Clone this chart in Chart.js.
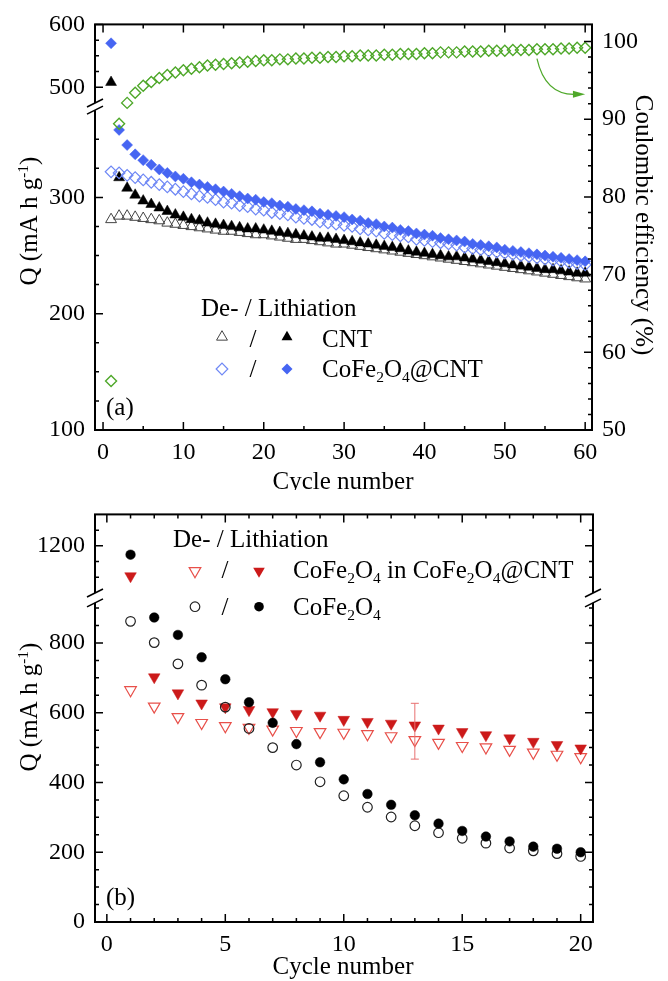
<!DOCTYPE html>
<html>
<head>
<meta charset="utf-8">
<script src="https://cdn.jsdelivr.net/npm/chart.js@4.4.1/dist/chart.umd.min.js"></script>
<style>
html, body { margin: 0; padding: 0; background: #fff; }
#wrap { position: relative; width: 668px; height: 981px; }
canvas { position: absolute; left: 0; }
</style>
</head>
<body>
<div id="wrap">
  <canvas id="chartA" width="668" height="490" style="top:0"></canvas>
  <canvas id="chartB" width="668" height="491" style="top:490px"></canvas>
</div>
<script>
// ---- panel (a): CNT vs CoFe2O4@CNT, 60 cycles ----
const cyclesA = Array.from({ length: 60 }, (_, i) => i + 1);
const deliCNT = [281, 284, 284, 283, 282, 281, 280, 278, 277, 276, 275, 274, 273, 272, 271, 271, 270, 269, 268, 268,
                 267, 266, 265, 264, 264, 263, 262, 261, 260, 260, 259, 258, 257, 256, 255, 254, 253, 252, 251, 250,
                 249, 248, 247, 246, 245, 244, 243, 242, 241, 240, 239, 238, 237, 236, 235, 234, 233, 232, 231, 230];
const liCNT = [508, 317, 308, 302, 297, 294, 291, 288, 285, 283, 281, 280, 278, 277, 276, 275, 274, 273, 273, 272,
               271, 270, 269, 268, 267, 266, 265, 265, 264, 263, 262, 261, 260, 259, 258, 257, 256, 254, 253, 252,
               251, 250, 249, 249, 248, 247, 246, 245, 244, 243, 242, 241, 240, 239, 238, 238, 237, 236, 235, 235];
const deliCoFeCNT = [322, 321, 319, 317, 315, 313, 311, 309, 307, 305, 303, 301, 300, 298, 296, 295, 293, 292, 290, 289,
                     287, 286, 285, 283, 282, 281, 279, 278, 277, 276, 275, 273, 272, 271, 269, 268, 267, 266, 264, 263,
                     262, 261, 260, 259, 257, 256, 255, 254, 253, 252, 251, 250, 249, 248, 247, 246, 245, 244, 243, 242];
const liCoFeCNT = [570, 358, 345, 337, 332, 328, 324, 321, 318, 316, 313, 311, 309, 307, 305, 303, 301, 299, 298, 296,
                   295, 293, 292, 290, 289, 288, 286, 285, 284, 283, 281, 280, 278, 277, 275, 274, 272, 271, 269, 268,
                   267, 265, 264, 263, 262, 260, 259, 258, 257, 255, 254, 253, 252, 251, 250, 249, 248, 247, 246, 245];
const ceCoFeCNT = [56.3, 89.4, 92.1, 93.4, 94.3, 94.8, 95.3, 95.7, 96.0, 96.3, 96.5, 96.7, 96.9, 97.0, 97.1, 97.2, 97.3, 97.4, 97.5, 97.6,
                   97.6, 97.7, 97.7, 97.8, 97.8, 97.9, 97.9, 98.0, 98.0, 98.1, 98.1, 98.2, 98.2, 98.2, 98.3, 98.3, 98.4, 98.4, 98.4, 98.5,
                   98.5, 98.6, 98.6, 98.6, 98.7, 98.7, 98.7, 98.8, 98.8, 98.8, 98.9, 98.9, 98.9, 99.0, 99.0, 99.0, 99.1, 99.1, 99.2, 99.2];

// ---- panel (b): CoFe2O4 vs CoFe2O4 in CoFe2O4@CNT, 20 cycles ----
const cyclesB = [1, 2, 3, 4, 5, 6, 7, 8, 9, 10, 11, 12, 13, 14, 15, 16, 17, 18, 19, 20];
const deliInCNT = [665, 618, 588, 571, 562, 557, 552, 548, 545, 543, 539, 533, 522, 514, 505, 501, 494, 486, 480, 473];
const liInCNT = [1104, 702, 656, 627, 616, 608, 602, 597, 592, 580, 574, 569, 564, 555, 545, 536, 527, 517, 508, 498];
const deliCoFe = [862, 801, 740, 679, 616, 555, 500, 450, 402, 362, 329, 301, 276, 256, 240, 226, 212, 204, 196, 188];
const liCoFe = [1172, 873, 823, 759, 696, 630, 571, 510, 458, 409, 367, 336, 306, 282, 261, 245, 231, 216, 210, 200];
const errCycle = [13];
const errLow = [467];
const errHigh = [627];

// tick labels
const xTicksA = [0, 10, 20, 30, 40, 50, 60];
const yTicksA = [100, 200, 300, 500, 600];
const ceTicks = [50, 60, 70, 80, 90, 100];
const xTicksB = [0, 5, 10, 15, 20];
const yTicksB = [0, 200, 400, 600, 800, 1200];

// axis breaks (value ranges kept on each side and share of the plot height)
const breakA = { lowMin: 100, lowMax: 375, highMin: 475, highMax: 600, lowFrac: 0.7886, highFrac: 0.194 };
const breakB = { lowMin: 0, lowMax: 915, highMin: 1050, highMax: 1300, lowFrac: 0.783, highFrac: 0.193 };

const ink = '#000';
const serif = "'Liberation Serif', 'Times New Roman', serif";
const green = '#4fa82a';
const blueFill = '#4665f2';
const blueLine = '#6f88f5';
const redFill = '#cc1a1a';
const redLine = '#e8504a';

// y scale with a gap in the middle
class BrokenScale extends Chart.LinearScale {
  getPixelForValue(value) {
    const o = this.options.broken;
    const h = this.bottom - this.top;
    if (value <= o.lowMax) {
      return this.bottom - (value - o.lowMin) / (o.lowMax - o.lowMin) * o.lowFrac * h;
    }
    return this.top + (o.highMax - value) / (o.highMax - o.highMin) * o.highFrac * h;
  }
  getValueForPixel(pixel) {
    const o = this.options.broken;
    const h = this.bottom - this.top;
    const split = this.bottom - o.lowFrac * h;
    if (pixel >= split) {
      return o.lowMin + (this.bottom - pixel) / (o.lowFrac * h) * (o.lowMax - o.lowMin);
    }
    return o.highMax - (pixel - this.top) / (o.highFrac * h) * (o.highMax - o.highMin);
  }
}
BrokenScale.id = 'broken';
BrokenScale.defaults = {};
Chart.register(BrokenScale);

function pts(xs, ys) {
  return xs.map((c, i) => ({ x: c, y: ys[i] }));
}

function range(a, b, step) {
  const out = [];
  for (let v = a; v <= b + 1e-9; v += step) out.push(Math.round(v * 1000) / 1000);
  return out;
}

function tickX(ctx, scale, yEdge, dir, vals, len) {
  ctx.beginPath();
  vals.forEach(v => {
    const px = scale.getPixelForValue(v);
    ctx.moveTo(px, yEdge);
    ctx.lineTo(px, yEdge + dir * len);
  });
  ctx.stroke();
}

function tickY(ctx, scale, xEdge, dir, vals, len) {
  ctx.beginPath();
  vals.forEach(v => {
    const py = scale.getPixelForValue(v);
    ctx.moveTo(xEdge, py);
    ctx.lineTo(xEdge + dir * len, py);
  });
  ctx.stroke();
}

function inSegments(v, o) {
  return (v > o.lowMin && v < o.lowMax - 5) || (v > o.highMin + 5 && v < o.highMax);
}

function breakMark(ctx, scale, x, o) {
  const yLow = scale.getPixelForValue(o.lowMax);
  const yHigh = scale.getPixelForValue(o.highMin);
  ctx.save();
  ctx.fillStyle = '#fff';
  ctx.fillRect(x - 3, yHigh, 6, yLow - yHigh);
  ctx.strokeStyle = ink;
  ctx.lineWidth = 1.6;
  ctx.beginPath();
  [yLow, yHigh].forEach(py => {
    ctx.moveTo(x - 8, py + 4);
    ctx.lineTo(x + 8, py - 4);
  });
  ctx.stroke();
  ctx.restore();
}

// text with sub/superscripts, y is the baseline
function richText(ctx, x, y, parts, size, align) {
  const small = size * 0.62;
  let w = 0;
  const segs = parts.map(p => {
    const s = p[0], k = p[1] || '';
    ctx.font = (k ? small : size) + 'px ' + serif;
    const m = ctx.measureText(s).width;
    w += m;
    return [s, k, m];
  });
  let cx = align === 'center' ? x - w / 2 : (align === 'right' ? x - w : x);
  ctx.textAlign = 'left';
  ctx.textBaseline = 'alphabetic';
  segs.forEach(([s, k, m]) => {
    ctx.font = (k ? small : size) + 'px ' + serif;
    const dy = k === 'sub' ? size * 0.2 : (k === 'sup' ? -size * 0.36 : 0);
    ctx.fillText(s, cx, y + dy);
    cx += m;
  });
}

function marker(ctx, style, x, y, r, fill, stroke, lw) {
  ctx.beginPath();
  if (style === 'tri') {
    ctx.moveTo(x, y - r);
    ctx.lineTo(x + r * 0.866, y + r / 2);
    ctx.lineTo(x - r * 0.866, y + r / 2);
    ctx.closePath();
  } else if (style === 'triDown') {
    ctx.moveTo(x, y + r);
    ctx.lineTo(x + r * 0.866, y - r / 2);
    ctx.lineTo(x - r * 0.866, y - r / 2);
    ctx.closePath();
  } else if (style === 'diamond') {
    ctx.moveTo(x - r, y);
    ctx.lineTo(x, y - r);
    ctx.lineTo(x + r, y);
    ctx.lineTo(x, y + r);
    ctx.closePath();
  } else {
    ctx.arc(x, y, r, 0, Math.PI * 2);
  }
  if (fill) { ctx.fillStyle = fill; ctx.fill(); }
  if (stroke) { ctx.strokeStyle = stroke; ctx.lineWidth = lw; ctx.stroke(); }
}

const qTitle = [['Q (mA h g'], ['-1', 'sup'], [')']];
const cfCNT = [['CoFe'], ['2', 'sub'], ['O'], ['4', 'sub'], ['@CNT']];

const panelA = {
  id: 'panelA',
  afterDatasetsDraw(chart) {
    const { ctx, chartArea: a } = chart;
    const { x, y, y1 } = chart.scales;
    ctx.save();
    ctx.strokeStyle = ink;
    ctx.lineWidth = 2;
    ctx.strokeRect(a.left, a.top, a.right - a.left, a.bottom - a.top);

    ctx.lineWidth = 1.5;
    const xMinor = range(5, 55, 10);
    tickX(ctx, x, a.bottom, -1, xTicksA, 8);
    tickX(ctx, x, a.top, 1, xTicksA, 8);
    tickX(ctx, x, a.bottom, -1, xMinor, 4);
    tickX(ctx, x, a.top, 1, xMinor, 4);

    const yMinor = range(100, 600, 25).filter(v => v % 100 !== 0 && inSegments(v, breakA));
    tickY(ctx, y, a.left, 1, yTicksA, 8);
    tickY(ctx, y, a.left, 1, yMinor, 4);

    const ceMinor = range(52, 98, 2).filter(v => v % 10 !== 0);
    tickY(ctx, y1, a.right, -1, ceTicks, 8);
    tickY(ctx, y1, a.right, -1, ceMinor, 4);

    breakMark(ctx, y, a.left, breakA);

    // arrow pointing at the efficiency axis
    const sx = x.getPixelForValue(54), sy = y1.getPixelForValue(97.8);
    const qx = x.getPixelForValue(55), qy = y1.getPixelForValue(93.2);
    const ex = x.getPixelForValue(58.6), ey = y1.getPixelForValue(93.2);
    const tx = x.getPixelForValue(60.0);
    ctx.strokeStyle = green;
    ctx.fillStyle = green;
    ctx.lineWidth = 1.2;
    ctx.beginPath();
    ctx.moveTo(sx, sy);
    ctx.quadraticCurveTo(qx, qy, ex, ey);
    ctx.stroke();
    ctx.beginPath();
    ctx.moveTo(tx, ey);
    ctx.lineTo(ex - 1, ey - 3.5);
    ctx.lineTo(ex - 1, ey + 3.5);
    ctx.closePath();
    ctx.fill();

    // texts
    ctx.fillStyle = ink;
    richText(ctx, 343, 488.5, [['Cycle number']], 25, 'center');
    richText(ctx, 106, 415, [['(a)']], 25, 'left');
    ctx.save();
    ctx.translate(37, 221);
    ctx.rotate(-Math.PI / 2);
    richText(ctx, 0, 0, qTitle, 25, 'center');
    ctx.restore();
    ctx.save();
    ctx.translate(636, 225);
    ctx.rotate(Math.PI / 2);
    richText(ctx, 0, 0, [['Coulombic efficiency (%)']], 25, 'center');
    ctx.restore();

    // legend
    richText(ctx, 201, 316, [['De- / Lithiation']], 25, 'left');
    marker(ctx, 'tri', 222, 337, 6.3, null, '#444', 1);
    marker(ctx, 'tri', 287, 337, 6.3, ink, null, 0);
    ctx.fillStyle = ink;
    richText(ctx, 253, 347, [['/']], 25, 'center');
    richText(ctx, 322, 347, [['CNT']], 25, 'left');
    marker(ctx, 'diamond', 222, 369, 5.8, null, blueLine, 1.2);
    marker(ctx, 'diamond', 287, 369, 5.5, blueFill, null, 0);
    ctx.fillStyle = ink;
    richText(ctx, 253, 377, [['/']], 25, 'center');
    richText(ctx, 322, 377, cfCNT, 25, 'left');
    ctx.restore();
  }
};

const panelB = {
  id: 'panelB',
  afterDatasetsDraw(chart) {
    const { ctx, chartArea: a } = chart;
    const { x, y } = chart.scales;
    ctx.save();
    // error bar
    ctx.strokeStyle = '#e87070';
    ctx.lineWidth = 1;
    ctx.beginPath();
    errCycle.forEach((c, i) => {
      const px = x.getPixelForValue(c);
      const y0 = y.getPixelForValue(errLow[i]), y9 = y.getPixelForValue(errHigh[i]);
      ctx.moveTo(px, y0); ctx.lineTo(px, y9);
      ctx.moveTo(px - 4, y0); ctx.lineTo(px + 4, y0);
      ctx.moveTo(px - 4, y9); ctx.lineTo(px + 4, y9);
    });
    ctx.stroke();

    ctx.strokeStyle = ink;
    ctx.lineWidth = 2;
    ctx.strokeRect(a.left, a.top, a.right - a.left, a.bottom - a.top);

    ctx.lineWidth = 1.5;
    const xMinor = range(1, 19, 1).filter(v => v % 5 !== 0);
    tickX(ctx, x, a.bottom, -1, xTicksB, 8);
    tickX(ctx, x, a.top, 1, xTicksB, 8);
    tickX(ctx, x, a.bottom, -1, xMinor, 4);
    tickX(ctx, x, a.top, 1, xMinor, 4);

    const yMinor = range(50, 1300, 50).filter(v => yTicksB.indexOf(v) < 0 && inSegments(v, breakB));
    tickY(ctx, y, a.left, 1, yTicksB, 8);
    tickY(ctx, y, a.right, -1, yTicksB, 8);
    tickY(ctx, y, a.left, 1, yMinor, 4);
    tickY(ctx, y, a.right, -1, yMinor, 4);

    breakMark(ctx, y, a.left, breakB);
    breakMark(ctx, y, a.right, breakB);

    ctx.fillStyle = ink;
    richText(ctx, 343, 973.5 - 490, [['Cycle number']], 25, 'center');
    richText(ctx, 106, 905 - 490, [['(b)']], 25, 'left');
    ctx.save();
    ctx.translate(37, 707 - 490);
    ctx.rotate(-Math.PI / 2);
    richText(ctx, 0, 0, qTitle, 25, 'center');
    ctx.restore();

    // legend
    richText(ctx, 173, 547 - 490, [['De- / Lithiation']], 25, 'left');
    marker(ctx, 'triDown', 195, 571 - 490, 6.7, null, redLine, 1.2);
    marker(ctx, 'triDown', 259, 571 - 490, 6.7, redFill, null, 0);
    ctx.fillStyle = ink;
    richText(ctx, 225, 578 - 490, [['/']], 25, 'center');
    richText(ctx, 293, 578 - 490, [['CoFe'], ['2', 'sub'], ['O'], ['4', 'sub'], [' in CoFe'], ['2', 'sub'], ['O'], ['4', 'sub'], ['@CNT']], 25, 'left');
    marker(ctx, 'circle', 195, 606.7 - 490, 4.8, null, '#222', 1.2);
    marker(ctx, 'circle', 259, 606.7 - 490, 4.8, ink, null, 0);
    ctx.fillStyle = ink;
    richText(ctx, 225, 614.5 - 490, [['/']], 25, 'center');
    richText(ctx, 293, 614.5 - 490, [['CoFe'], ['2', 'sub'], ['O'], ['4', 'sub']], 25, 'left');
    ctx.restore();
  }
};

const tickFont = { family: serif, size: 24 };
const noGrid = { display: false, drawTicks: false };
const plainLabel = v => String(v);

function fixedTicks(list) {
  return scale => { scale.ticks = list.map(v => ({ value: v })); };
}

new Chart(document.getElementById('chartA'), {
  type: 'scatter',
  data: {
    datasets: [
      { data: pts(cyclesA, ceCoFeCNT), yAxisID: 'y1', pointStyle: 'rectRot', pointRadius: 5.5,
        borderColor: green, backgroundColor: 'rgba(0,0,0,0)', borderWidth: 1.4 },
      { data: pts(cyclesA, liCoFeCNT), yAxisID: 'y', pointStyle: 'rectRot', pointRadius: 5.5,
        borderColor: blueFill, backgroundColor: blueFill, borderWidth: 0.5 },
      { data: pts(cyclesA, deliCoFeCNT), yAxisID: 'y', pointStyle: 'rectRot', pointRadius: 5.8,
        borderColor: blueLine, backgroundColor: 'rgba(0,0,0,0)', borderWidth: 1.2 },
      { data: pts(cyclesA, liCNT), yAxisID: 'y', pointStyle: 'triangle', pointRadius: 6.3,
        borderColor: ink, backgroundColor: ink, borderWidth: 0.5 },
      { data: pts(cyclesA, deliCNT), yAxisID: 'y', pointStyle: 'triangle', pointRadius: 6.3,
        borderColor: '#444', backgroundColor: 'rgba(0,0,0,0)', borderWidth: 1 }
    ]
  },
  options: {
    responsive: false,
    animation: false,
    devicePixelRatio: 1,
    events: [],
    layout: { padding: { top: 16, left: 0, right: 0, bottom: 0 } },
    plugins: { legend: { display: false }, tooltip: { enabled: false } },
    scales: {
      x: {
        type: 'linear', min: -1, max: 60.85,
        grid: noGrid, border: { display: false },
        ticks: { font: tickFont, color: ink, padding: 8, autoSkip: false, maxRotation: 0, callback: plainLabel },
        afterBuildTicks: fixedTicks(xTicksA),
        afterFit: s => { s.height = 60; }
      },
      y: {
        type: 'broken', position: 'left', min: 100, max: 600, broken: breakA,
        grid: noGrid, border: { display: false },
        ticks: { font: tickFont, color: ink, padding: 10, autoSkip: false, callback: plainLabel },
        afterBuildTicks: fixedTicks(yTicksA),
        afterFit: s => { s.width = 95; }
      },
      y1: {
        type: 'linear', position: 'right', min: 50, max: 102.2,
        grid: noGrid, border: { display: false },
        ticks: { font: tickFont, color: ink, padding: 10, autoSkip: false, callback: plainLabel },
        afterBuildTicks: fixedTicks(ceTicks),
        afterFit: s => { s.width = 76; }
      }
    }
  },
  plugins: [panelA]
});

new Chart(document.getElementById('chartB'), {
  type: 'scatter',
  data: {
    datasets: [
      { data: pts(cyclesB, liCoFe), pointStyle: 'circle', pointRadius: 4.8,
        borderColor: ink, backgroundColor: ink, borderWidth: 0.5 },
      { data: pts(cyclesB, deliCoFe), pointStyle: 'circle', pointRadius: 4.8,
        borderColor: '#222', backgroundColor: 'rgba(0,0,0,0)', borderWidth: 1.2 },
      { data: pts(cyclesB, liInCNT), pointStyle: 'triangle', pointRotation: 180, pointRadius: 6.7,
        borderColor: redFill, backgroundColor: redFill, borderWidth: 0.5 },
      { data: pts(cyclesB, deliInCNT), pointStyle: 'triangle', pointRotation: 180, pointRadius: 6.7,
        borderColor: redLine, backgroundColor: 'rgba(0,0,0,0)', borderWidth: 1.2 }
    ]
  },
  options: {
    responsive: false,
    animation: false,
    devicePixelRatio: 1,
    events: [],
    layout: { padding: { top: 17, left: 0, right: 75, bottom: 0 } },
    plugins: { legend: { display: false }, tooltip: { enabled: false } },
    scales: {
      x: {
        type: 'linear', min: -0.5, max: 20.52,
        grid: noGrid, border: { display: false },
        ticks: { font: tickFont, color: ink, padding: 8, autoSkip: false, maxRotation: 0, callback: plainLabel },
        afterBuildTicks: fixedTicks(xTicksB),
        afterFit: s => { s.height = 59; }
      },
      y: {
        type: 'broken', position: 'left', min: 0, max: 1300, broken: breakB,
        grid: noGrid, border: { display: false },
        ticks: { font: tickFont, color: ink, padding: 10, autoSkip: false, callback: plainLabel },
        afterBuildTicks: fixedTicks(yTicksB),
        afterFit: s => { s.width = 95; }
      }
    }
  },
  plugins: [panelB]
});
</script>
</body>
</html>
